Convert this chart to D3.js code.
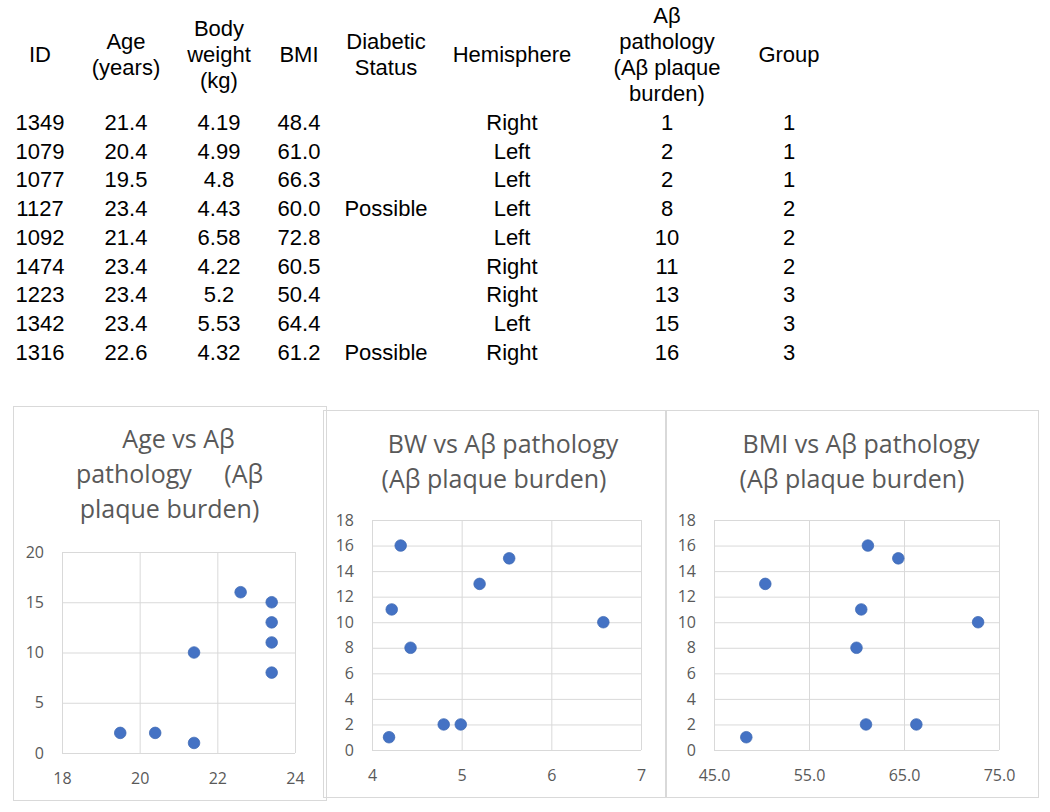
<!DOCTYPE html>
<html>
<head>
<meta charset="utf-8">
<script src="https://cdn.jsdelivr.net/npm/d3@7"></script>
<style>
  html, body { margin: 0; padding: 0; background: #fff; }
  svg { display: block; }
</style>
</head>
<body>
<svg id="root" width="1050" height="812"></svg>
<script>
// ---------------- DATA ----------------
const ids        = [1349, 1079, 1077, 1127, 1092, 1474, 1223, 1342, 1316];
const ageYears   = [21.4, 20.4, 19.5, 23.4, 21.4, 23.4, 23.4, 23.4, 22.6];
const bodyWeight = [4.19, 4.99, 4.8, 4.43, 6.58, 4.22, 5.2, 5.53, 4.32];
const bmi        = [48.4, 61.0, 66.3, 60.0, 72.8, 60.5, 50.4, 64.4, 61.2];
const diabetic   = ["", "", "", "Possible", "", "", "", "", "Possible"];
const hemisphere = ["Right", "Left", "Left", "Left", "Left", "Right", "Right", "Left", "Right"];
const abeta      = [1, 2, 2, 8, 10, 11, 13, 15, 16];
const group      = [1, 1, 1, 2, 2, 2, 3, 3, 3];

const headers = [
  ["ID"], ["Age", "(years)"], ["Body", "weight", "(kg)"], ["BMI"],
  ["Diabetic", "Status"], ["Hemisphere"],
  ["Aβ", "pathology", "(Aβ plaque", "burden)"], ["Group"]
];

const ageTicks = [18, 20, 22, 24];
const bwTicks  = [4, 5, 6, 7];
const bmiTicks = [45, 55, 65, 75];
const yTicksAge = [0, 5, 10, 15, 20];
const yTicksAb  = [0, 2, 4, 6, 8, 10, 12, 14, 16, 18];

const titleAge = ["Age vs Aβ", "pathology\u00A0\u00A0\u00A0\u00A0\u00A0(Aβ", "plaque burden)"];
const titleBW  = ["BW vs Aβ pathology", "(Aβ plaque burden)"];
const titleBMI = ["BMI vs Aβ pathology", "(Aβ plaque burden)"];

// ---------------- TABLE ----------------
const svg = d3.select("#root");
svg.append("rect").attr("width", 1050).attr("height", 812).attr("fill", "#fff");

const colX = [40, 126, 219, 299, 386, 512, 667, 789];
const tableFont = "'Liberation Sans', Arial, sans-serif";
const table = svg.append("g").attr("font-family", tableFont).attr("font-size", 22)
  .attr("fill", "#000").attr("text-anchor", "middle");

headers.forEach((lines, c) => {
  const n = lines.length;
  lines.forEach((t, i) => {
    table.append("text")
      .attr("x", colX[c])
      .attr("y", 62 + (i - (n - 1) / 2) * 26)
      .text(t);
  });
});

const rows = ids.map((id, i) => [
  String(id), ageYears[i].toFixed(1), String(bodyWeight[i]), bmi[i].toFixed(1),
  diabetic[i], hemisphere[i], String(abeta[i]), String(group[i])
]);
const rowY = d3.scaleLinear().domain([0, rows.length - 1]).range([130, 359.6]);
rows.forEach((r, i) => {
  r.forEach((t, c) => {
    if (!t) return;
    table.append("text").attr("x", colX[c]).attr("y", rowY(i)).text(t);
  });
});

// ---------------- CHARTS ----------------
const chartFont = "'Open Sans', sans-serif";
function scatter(cfg) {
  const g = svg.append("g");
  g.append("rect")
    .attr("x", cfg.panel[0] + 0.5).attr("y", cfg.panel[1] + 0.5)
    .attr("width", cfg.panel[2] - cfg.panel[0]).attr("height", cfg.panel[3] - cfg.panel[1])
    .attr("fill", "none").attr("stroke", "#D9D9D9").attr("stroke-width", 1);

  const cx = (cfg.panel[0] + cfg.panel[2]) / 2;
  cfg.title.forEach((t, i) => {
    g.append("text")
      .attr("x", cx + (i === 0 ? 9 : 0))
      .attr("y", cfg.titleY + i * 35)
      .attr("text-anchor", "middle")
      .attr("font-family", chartFont).attr("font-size", 25).attr("fill", "#595959")
      .text(t);
  });

  const [L, T, R, B] = cfg.plot;
  const x = d3.scaleLinear().domain(d3.extent(cfg.xTicks)).range([L, R]);
  const y = d3.scaleLinear().domain(d3.extent(cfg.yTicks)).range([B, T]);

  const yAxis = g.append("g").attr("transform", `translate(${L},0)`)
    .call(d3.axisLeft(y).tickValues(cfg.yTicks).tickSizeInner(-(R - L)).tickSizeOuter(0).tickPadding(18));
  const xAxis = g.append("g").attr("transform", `translate(0,${B})`)
    .call(d3.axisBottom(x).tickValues(cfg.xTicks).tickFormat(cfg.xFmt).tickSizeInner(-(B - T)).tickSizeOuter(0).tickPadding(20));
  [yAxis, xAxis].forEach(a => {
    a.select(".domain").remove();
    a.selectAll(".tick line").attr("stroke", "#D9D9D9").attr("stroke-width", 1);
    a.selectAll(".tick text").attr("fill", "#595959").attr("font-family", chartFont).attr("font-size", 16);
  });

  g.append("g").selectAll("circle")
    .data(cfg.xs.map((v, i) => [v, cfg.ys[i]]))
    .join("circle")
    .attr("cx", d => x(d[0])).attr("cy", d => y(d[1])).attr("r", 5.8)
    .attr("fill", "#4472C4").attr("stroke", "#3F69B3").attr("stroke-width", 0.75);
}

scatter({
  panel: [13, 406, 326, 800], plot: [62, 552, 295, 753], titleY: 448,
  title: titleAge, xTicks: ageTicks, yTicks: yTicksAge, xFmt: d3.format("d"),
  xs: ageYears, ys: abeta
});
scatter({
  panel: [323, 410, 665, 797], plot: [372, 520, 641, 750], titleY: 453,
  title: titleBW, xTicks: bwTicks, yTicks: yTicksAb, xFmt: d3.format("d"),
  xs: bodyWeight, ys: abeta
});
scatter({
  panel: [666, 410, 1038, 797], plot: [714, 520, 999, 750], titleY: 453,
  title: titleBMI, xTicks: bmiTicks, yTicks: yTicksAb, xFmt: d3.format(".1f"),
  xs: bmi, ys: abeta
});
</script>
</body>
</html>
